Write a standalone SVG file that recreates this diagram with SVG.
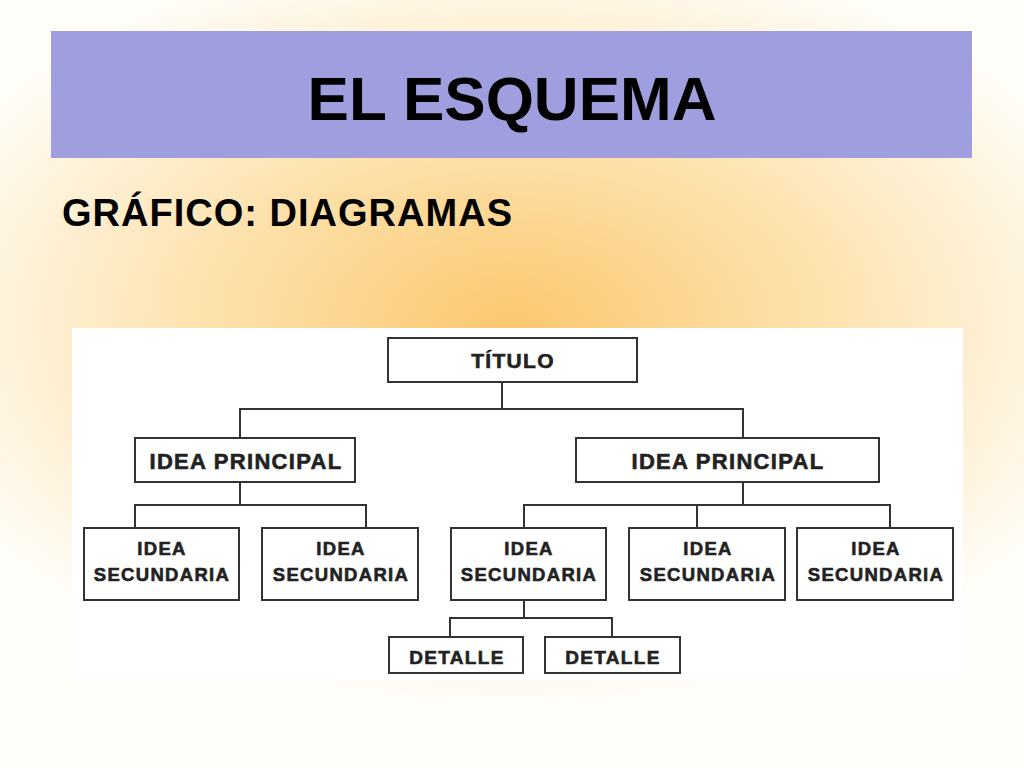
<svg xmlns="http://www.w3.org/2000/svg" width="1024" height="768" viewBox="0 0 1024 768">
<defs>
<radialGradient id="bg" cx="0.5" cy="0.42" r="0.62" gradientTransform="translate(0.5 0.42) scale(1 0.8) translate(-0.5 -0.42)">
<stop offset="0" stop-color="#fbc870"/>
<stop offset="0.45" stop-color="#fde0a8"/>
<stop offset="1" stop-color="#fffdf8"/>
</radialGradient>
<style>
.b{fill:#fff;stroke:#333;stroke-width:2}
.t{font-family:"Liberation Sans",Arial,sans-serif;font-weight:bold;fill:#222;stroke:#222;stroke-width:0.6;text-anchor:middle;letter-spacing:1.3px}
.c{fill:none;stroke:#333;stroke-width:2}
</style>
</defs>
<rect width="1024" height="768" fill="url(#bg)"/>
<rect x="51" y="31" width="921" height="127" fill="#9f9fdf"/>
<text x="512" y="120" font-family="Liberation Sans,Arial,sans-serif" font-weight="bold" font-size="62" text-anchor="middle" fill="#000">EL ESQUEMA</text>
<text x="62" y="226" font-family="Liberation Sans,Arial,sans-serif" font-weight="bold" font-size="38" fill="#000" textLength="450">GRÁFICO: DIAGRAMAS</text>
<rect x="72" y="328" width="891" height="352" fill="#fff"/>
<g id="connectors">
<path class="c" d="M502 382V409M240 438V409H743V438"/>
<path class="c" d="M240 482V505M135 528V505H366V528"/>
<path class="c" d="M743 482V505M524 528V505H890V528M697 505V528"/>
<path class="c" d="M524 600V618M450 637V618H612V637"/>
</g>
<g id="titulo"><rect class="b" x="388" y="338" width="249" height="44"/><text class="t" x="513" y="368" font-size="21">TÍTULO</text></g>
<g id="ip1"><rect class="b" x="135" y="438" width="220" height="44"/><text class="t" x="246" y="469" font-size="22">IDEA PRINCIPAL</text></g>
<g id="ip2"><rect class="b" x="576" y="438" width="303" height="44"/><text class="t" x="728" y="469" font-size="22">IDEA PRINCIPAL</text></g>
<g id="s1"><rect class="b" x="84" y="528" width="155" height="72"/><text class="t" x="162" y="555" font-size="18.5">IDEA</text><text class="t" x="162" y="581" font-size="18.5">SECUNDARIA</text></g>
<g id="s2"><rect class="b" x="262" y="528" width="156" height="72"/><text class="t" x="341" y="555" font-size="18.5">IDEA</text><text class="t" x="341" y="581" font-size="18.5">SECUNDARIA</text></g>
<g id="s3"><rect class="b" x="451" y="528" width="155" height="72"/><text class="t" x="529" y="555" font-size="18.5">IDEA</text><text class="t" x="529" y="581" font-size="18.5">SECUNDARIA</text></g>
<g id="s4"><rect class="b" x="629" y="528" width="156" height="72"/><text class="t" x="708" y="555" font-size="18.5">IDEA</text><text class="t" x="708" y="581" font-size="18.5">SECUNDARIA</text></g>
<g id="s5"><rect class="b" x="797" y="528" width="156" height="72"/><text class="t" x="876" y="555" font-size="18.5">IDEA</text><text class="t" x="876" y="581" font-size="18.5">SECUNDARIA</text></g>
<g id="d1"><rect class="b" x="389" y="637" width="134" height="36"/><text class="t" x="457" y="664" font-size="19">DETALLE</text></g>
<g id="d2"><rect class="b" x="545" y="637" width="135" height="36"/><text class="t" x="613" y="664" font-size="19">DETALLE</text></g>
</svg>
